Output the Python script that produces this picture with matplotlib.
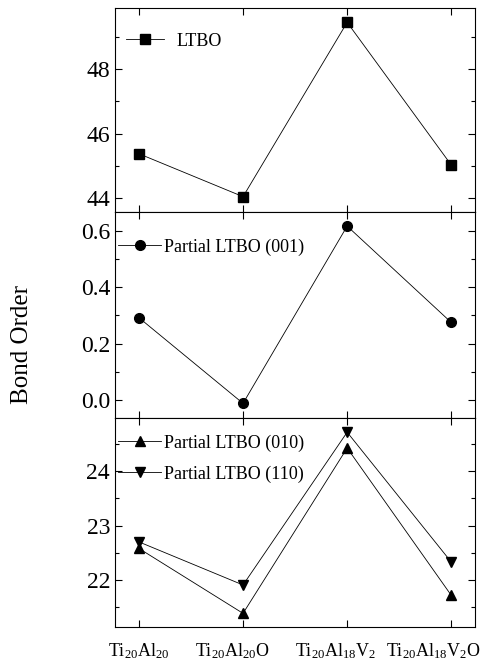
import numpy as np
import matplotlib
matplotlib.use('Agg')
from matplotlib import pyplot as plt
from matplotlib.ticker import MultipleLocator, AutoMinorLocator, FormatStrFormatter
from matplotlib.transforms import ScaledTranslation

plt.rcParams['font.family'] = ['Liberation Serif', 'DejaVu Serif']
plt.rcParams['mathtext.fontset'] = 'custom'
plt.rcParams['mathtext.rm'] = 'Liberation Serif'
plt.rcParams['mathtext.it'] = 'Liberation Serif'

#------------------------------------------------------------
# data
systems = [r'Ti$_{20}$Al$_{20}$', r'Ti$_{20}$Al$_{20}$O',
           r'Ti$_{20}$Al$_{18}$V$_{2}$', r'Ti$_{20}$Al$_{18}$V$_{2}$O']
ltbo = [45.38, 44.05, 49.45, 45.03]
ltbo_001 = [0.292, -0.012, 0.617, 0.275]
ltbo_010 = [22.58, 21.39, 24.42, 21.72]
ltbo_110 = [22.70, 21.91, 24.71, 22.33]

x = np.arange(len(systems))

fig = plt.figure(figsize=(4.81, 6.63), dpi=100)
left, width = 0.239, 0.749
ax1 = fig.add_axes([left, 0.680, width, 0.3077])
ax2 = fig.add_axes([left, 0.3695, width, 0.3107])
ax3 = fig.add_axes([left, 0.0543, width, 0.3152])

kw = dict(color='black', lw=0.6, markersize=7)
ax1.plot(x, ltbo, marker='s', label='LTBO', **kw)
ax2.plot(x, ltbo_001, marker='o', label='Partial LTBO (001)', **kw)
ax3.plot(x, ltbo_010, marker='^', label='Partial LTBO (010)', **kw)
ax3.plot(x, ltbo_110, marker='v', label='Partial LTBO (110)', **kw)

ax1.set_ylim(43.57, 49.89)
ax1.yaxis.set_major_locator(MultipleLocator(2))
ax2.set_ylim(-0.064, 0.667)
ax2.yaxis.set_major_locator(MultipleLocator(0.2))
ax2.yaxis.set_major_formatter(FormatStrFormatter('%.1f'))
ax3.set_ylim(21.14, 24.97)
ax3.yaxis.set_major_locator(MultipleLocator(1))

for ax in (ax1, ax2, ax3):
    ax.set_xlim(-0.23, 3.23)
    ax.set_xticks(x)
    ax.yaxis.set_minor_locator(AutoMinorLocator(2))
    ax.tick_params(which='both', direction='in', top=True, right=True,
                   labelsize=17, width=0.8)
    ax.tick_params(which='major', length=5)
    ax.tick_params(which='minor', length=3)
    for s in ax.spines.values():
        s.set_linewidth(0.8)
    if ax is not ax3:
        ax.tick_params(labelbottom=False)

leg_kw = dict(frameon=False, fontsize=13, borderpad=0, borderaxespad=0,
              loc='center left')
ax1.legend(bbox_to_anchor=(0.03, 0.838), handlelength=2.1,
           handletextpad=0.7, **leg_kw)
ax2.legend(bbox_to_anchor=(0.008, 0.830), handlelength=2.4,
           handletextpad=0.15, **leg_kw)
ax3.legend(bbox_to_anchor=(0.008, 0.806), handlelength=2.4,
           handletextpad=0.15, labelspacing=0.75, **leg_kw)

ax3.set_xticklabels(systems, fontsize=13)
ax3.tick_params(axis='x', pad=10)
# labels in the original sit slightly left of their ticks
shifts = [0, -11, -12, -18]
for lab, dx in zip(ax3.get_xticklabels(), shifts):
    lab.set_transform(lab.get_transform() +
                      ScaledTranslation(dx / 100, 0, fig.dpi_scale_trans))

fig.text(0.046, 0.481, 'Bond Order', rotation=90, va='center', ha='center',
         fontsize=18)

plt.savefig('out.png', dpi=100)
